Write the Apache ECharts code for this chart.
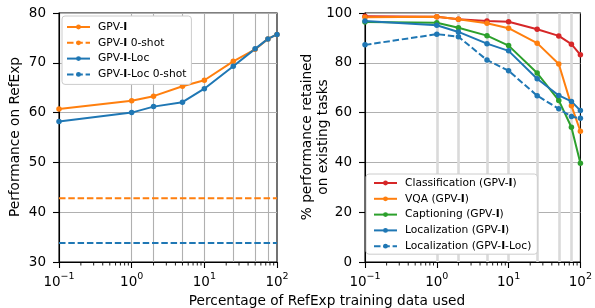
<!DOCTYPE html>
<html>
<head>
<meta charset="utf-8">
<script src="https://cdn.jsdelivr.net/npm/echarts@6/dist/echarts.min.js"></script>
<style>
html, body { margin: 0; padding: 0; background: #fff; }
#chart { width: 595px; height: 308px; }
</style>
</head>
<body>
<div id="chart"></div>
<script>
// x: percentage of RefExp training data used (log axis)
const xPct = [0.1, 1, 2, 5, 10, 25, 50, 75, 100];

// left panel: performance on RefExp
const refGpv = [60.7, 62.4, 63.3, 65.3, 66.5, 70.3, 72.7, 74.8, 75.7];
const refGpvLoc = [58.2, 60.0, 61.2, 62.1, 64.8, 69.3, 72.8, 74.8, 75.7];
const zeroShotGpv = 42.8;
const zeroShotLoc = 33.8;

// right panel: % performance retained on existing tasks
const clsGpv = [98.7, 98.5, 97.5, 96.8, 96.5, 93.5, 90.8, 87.5, 83.2];
const vqaGpv = [98.3, 98.5, 97.5, 95.9, 93.9, 87.9, 79.5, 62.8, 52.5];
const capGpv = [96.4, 96.1, 94.1, 90.9, 86.9, 75.9, 64.9, 54.1, 39.7];
const locGpv = [96.8, 95.1, 92.4, 87.7, 84.8, 73.6, 66.9, 64.5, 60.8];
const locGpvLoc = [87.2, 91.5, 90.5, 81.1, 76.8, 66.8, 61.5, 58.4, 57.7];

const leftNames = ['GPV-I', 'GPV-I 0-shot', 'GPV-I-Loc', 'GPV-I-Loc 0-shot'];
const rightNames = ['Classification (GPV-I)', 'VQA (GPV-I)', 'Captioning (GPV-I)',
  'Localization (GPV-I)', 'Localization (GPV-I-Loc)'];
const decades = [0.1, 1, 10];
const minorSteps = [2, 3, 4, 5, 6, 7, 8, 9];

const FONT = 'DejaVu Sans';
const C_BLUE = '#1f77b4';
const C_ORANGE = '#ff7f0e';
const C_GREEN = '#2ca02c';
const C_RED = '#d62728';

const chart = echarts.init(document.getElementById('chart'));

function pts(ys) {
  return xPct.map((x, i) => [x, ys[i]]);
}
function flat(y) {
  return [[xPct[0], y], [xPct[xPct.length - 1], y]];
}
function supLabel(v) {
  const e = Math.round(Math.log10(v));
  return '{b|10}{s|' + (e < 0 ? '\u2212' + (-e) : e) + '}';
}
function boldI(name) {
  return name.replace('GPV-I', 'GPV-{b|I}');
}

function xAxis(gi) {
  return {
    type: 'log', gridIndex: gi, min: 0.1, max: 100, logBase: 10,
    axisLine: { lineStyle: { color: '#000', width: 1.1 } },
    axisTick: { length: 6, lineStyle: { color: '#000', width: 1.1 } },
    axisLabel: {
      formatter: supLabel, color: '#000', margin: 10,
      rich: {
        b: { fontFamily: FONT, fontSize: 13.5, color: '#000', lineHeight: 20, verticalAlign: 'middle' },
        s: { fontFamily: FONT, fontSize: 9.5, color: '#000', lineHeight: 12, verticalAlign: 'top' }
      }
    },
    splitLine: { show: false }
  };
}
function yAxis(gi, min, max, interval) {
  return {
    type: 'value', gridIndex: gi, min: min, max: max, interval: interval,
    axisLine: { show: true, lineStyle: { color: '#000', width: 1.1 } },
    axisTick: { show: true, length: 6, lineStyle: { color: '#000', width: 1.1 } },
    axisLabel: { color: '#000', fontFamily: FONT, fontSize: 13.5, margin: 13 },
    splitLine: { lineStyle: { color: '#b0b0b0', width: 1.1 } }
  };
}
function lineSeries(name, data, color, xi, yi, dashed, marker) {
  return {
    name: name, type: 'line', xAxisIndex: xi, yAxisIndex: yi, data: data,
    symbol: marker ? 'circle' : 'none', symbolSize: 5.5, showSymbol: marker,
    itemStyle: { color: color },
    lineStyle: { color: color, width: 2, type: dashed ? [6.5, 2.8] : 'solid' },
    z: 3
  };
}
// vertical grid lines sit at the sampled x values, not at the decades
function gridLines(xi, yi, color, width) {
  return {
    type: 'line', xAxisIndex: xi, yAxisIndex: yi, data: [], silent: true, z: 1,
    markLine: {
      silent: true, symbol: 'none', z: 1, animation: false,
      label: { show: false },
      lineStyle: { color: color, width: width, type: 'solid' },
      data: xPct.slice(1, -1).map(x => ({ xAxis: x }))
    }
  };
}
// minor log ticks (2..9 in each decade), placed through the log axis
function minorTicks(xi, yi, yMin) {
  const vals = [];
  decades.forEach(d => minorSteps.forEach(k => vals.push([k * d, yMin])));
  return {
    type: 'custom', xAxisIndex: xi, yAxisIndex: yi, data: vals, silent: true, clip: false, z: 4,
    renderItem: function(params, api) {
      const p = api.coord([api.value(0), api.value(1)]);
      return {
        type: 'line',
        shape: { x1: p[0], y1: p[1], x2: p[0], y2: p[1] + 3.5 },
        style: { stroke: '#000', lineWidth: 0.9 }
      };
    }
  };
}
function legend(names, left, top, padding) {
  return {
    data: names, orient: 'vertical', left: left, top: top,
    itemWidth: 23, itemHeight: 6, itemGap: 3.8,
    backgroundColor: '#fff', borderColor: '#ccc', borderWidth: 1, borderRadius: 3,
    padding: padding,
    formatter: boldI,
    textStyle: {
      fontFamily: FONT, fontSize: 10.7, lineHeight: 12, color: '#000', padding: [0, 0, 0, 3],
      rich: { b: { fontFamily: FONT, fontSize: 10.7, lineHeight: 12, fontWeight: 'bold', color: '#000' } }
    }
  };
}
function axisName(text, x, y, rot) {
  return {
    type: 'text', x: x, y: y, rotation: rot,
    style: { text: text, fontFamily: FONT, fontSize: 13.7, fill: '#000', align: 'center', verticalAlign: 'middle' }
  };
}

chart.setOption({
  animation: false,
  grid: [
    { left: 59, right: 318, top: 13, bottom: 46, show: true, borderColor: '#000', borderWidth: 1.1 },
    { left: 365, right: 12, top: 13, bottom: 46, show: true, borderColor: '#000', borderWidth: 1.1 }
  ],
  xAxis: [xAxis(0), xAxis(1)],
  yAxis: [yAxis(0, 30, 80, 10), yAxis(1, 0, 100, 20)],
  legend: [
    legend(leftNames, 62, 16, [5, 5, 4, 4]),
    legend(rightNames, 366, 174, [3, 6, 2, 7])
  ],
  graphic: [
    axisName('Performance on RefExp', 15, 137, Math.PI / 2),
    axisName('% performance retained', 307, 137, Math.PI / 2),
    axisName('on existing tasks', 323, 137, Math.PI / 2),
    axisName('Percentage of RefExp training data used', 327, 301, 0)
  ],
  series: [
    gridLines(0, 0, '#b0b0b0', 1.1),
    gridLines(1, 1, '#dadada', 2.6),
    minorTicks(0, 0, 30),
    minorTicks(1, 1, 0),
    lineSeries(leftNames[0], pts(refGpv), C_ORANGE, 0, 0, false, true),
    lineSeries(leftNames[1], flat(zeroShotGpv), C_ORANGE, 0, 0, true, false),
    lineSeries(leftNames[2], pts(refGpvLoc), C_BLUE, 0, 0, false, true),
    lineSeries(leftNames[3], flat(zeroShotLoc), C_BLUE, 0, 0, true, false),
    lineSeries(rightNames[0], pts(clsGpv), C_RED, 1, 1, false, true),
    lineSeries(rightNames[1], pts(vqaGpv), C_ORANGE, 1, 1, false, true),
    lineSeries(rightNames[2], pts(capGpv), C_GREEN, 1, 1, false, true),
    lineSeries(rightNames[3], pts(locGpv), C_BLUE, 1, 1, false, true),
    lineSeries(rightNames[4], pts(locGpvLoc), C_BLUE, 1, 1, true, true)
  ]
});
</script>
</body>
</html>
